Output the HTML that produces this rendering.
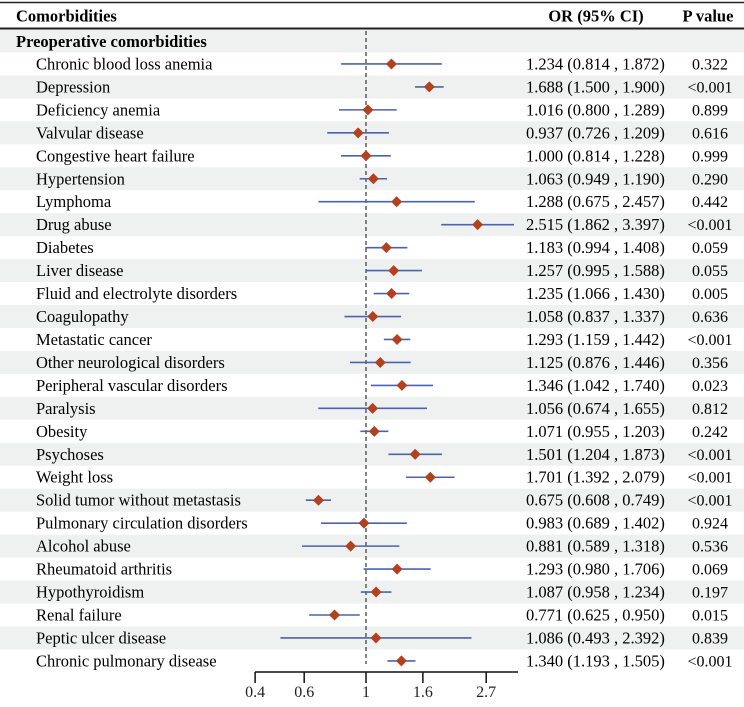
<!DOCTYPE html>
<html><head><meta charset="utf-8"><style>
html,body{margin:0;padding:0;background:#fff}
svg{display:block;font-family:"Liberation Serif",serif}
</style></head><body>
<svg id="chart" width="744" height="707" viewBox="0 0 744 707">
<g id="bands"></g>
<line x1="0" x2="744" y1="2.5" y2="2.5" stroke="#222" stroke-width="1.5"/>
<text x="16" y="21.5" font-size="16.5" font-weight="bold">Comorbidities</text>
<text x="596" y="21.5" font-size="16.5" font-weight="bold" text-anchor="middle">OR (95% CI)</text>
<text x="708" y="21.5" font-size="16.5" font-weight="bold" text-anchor="middle">P value</text>
<line x1="0" x2="744" y1="28.5" y2="28.5" stroke="#222" stroke-width="2"/>
<text x="16" y="47" font-size="16.5" font-weight="bold">Preoperative comorbidities</text>
<g id="rows"></g>
<g id="axis"></g>
</svg>
<script>
const labels=["Chronic blood loss anemia","Depression","Deficiency anemia","Valvular disease","Congestive heart failure","Hypertension","Lymphoma","Drug abuse","Diabetes","Liver disease","Fluid and electrolyte disorders","Coagulopathy","Metastatic cancer","Other neurological disorders","Peripheral vascular disorders","Paralysis","Obesity","Psychoses","Weight loss","Solid tumor without metastasis","Pulmonary circulation disorders","Alcohol abuse","Rheumatoid arthritis","Hypothyroidism","Renal failure","Peptic ulcer disease","Chronic pulmonary disease"];
const orVals=[1.234,1.688,1.016,0.937,1.000,1.063,1.288,2.515,1.183,1.257,1.235,1.058,1.293,1.125,1.346,1.056,1.071,1.501,1.701,0.675,0.983,0.881,1.293,1.087,0.771,1.086,1.340];
const lowVals=[0.814,1.500,0.800,0.726,0.814,0.949,0.675,1.862,0.994,0.995,1.066,0.837,1.159,0.876,1.042,0.674,0.955,1.204,1.392,0.608,0.689,0.589,0.980,0.958,0.625,0.493,1.193];
const highVals=[1.872,1.900,1.289,1.209,1.228,1.190,2.457,3.397,1.408,1.588,1.430,1.337,1.442,1.446,1.740,1.655,1.203,1.873,2.079,0.749,1.402,1.318,1.706,1.234,0.950,2.392,1.505];
const pVals=["0.322","<0.001","0.899","0.616","0.999","0.290","0.442","<0.001","0.059","0.055","0.005","0.636","<0.001","0.356","0.023","0.812","0.242","<0.001","<0.001","<0.001","0.924","0.536","0.069","0.197","0.015","0.839","<0.001"];
const tickVals=[0.4,0.6,1,1.6,2.7];
const tickLabels=["0.4","0.6","1","1.6","2.7"];

const NS="http://www.w3.org/2000/svg";
const X=v=>366+121*Math.log(v);
const Y=i=>41+22.96*i;
function mk(tag,attrs,parent){const e=document.createElementNS(NS,tag);for(const k in attrs)e.setAttribute(k,attrs[k]);parent.appendChild(e);return e;}
const bands=document.getElementById('bands'),rows=document.getElementById('rows'),axis=document.getElementById('axis');
for(let i=0;i<=labels.length;i++){
  if(i%2===0){const r=mk('rect',{x:0,y:Y(i)-11.5,width:744,height:22.96,fill:'#eef1f0'},bands);
  
  }
}
const ref=mk('line',{x1:366,x2:366,y1:31,y2:664,stroke:'#444','stroke-width':1.3,'stroke-dasharray':'4,3'},rows);


const f3=v=>v.toFixed(3);
labels.forEach((lab,k)=>{
  const i=k+1,y=Y(i);
  const g=mk('g',{},rows);
  
  
  const t=mk('text',{x:36,y:y+5.5,'font-size':16.5},g);t.textContent=lab;
  
  
  const ci=mk('line',{x1:X(lowVals[k]),x2:X(highVals[k]),y1:y,y2:y,stroke:'#4a63b0','stroke-width':1.6},g);
  
  
  const cx=X(orVals[k]);
  const d=mk('polygon',{points:`${cx},${y-5.5} ${cx+5.5},${y} ${cx},${y+5.5} ${cx-5.5},${y}`,fill:'#b3401e'},g);
  
  
  const o=mk('text',{x:526,y:y+5.5,'font-size':16.5},g);o.textContent=`${f3(orVals[k])} (${f3(lowVals[k])} , ${f3(highVals[k])})`;
  
  
  const p=mk('text',{x:710,y:y+5.5,'font-size':16,'text-anchor':'middle'},g);p.textContent=pVals[k];
  
  
});
mk('line',{x1:255,x2:518,y1:672,y2:672,stroke:'#111','stroke-width':1.5},axis);
tickVals.forEach((v,j)=>{
  const x=X(v);
  const tk=mk('line',{x1:x,x2:x,y1:672,y2:683,stroke:'#111','stroke-width':1.5},axis);
  
  
  const tl=mk('text',{x:x,y:697,'font-size':16,'text-anchor':'middle',fill:'#222'},axis);tl.textContent=tickLabels[j];
  
  
});
</script>
</body></html>
